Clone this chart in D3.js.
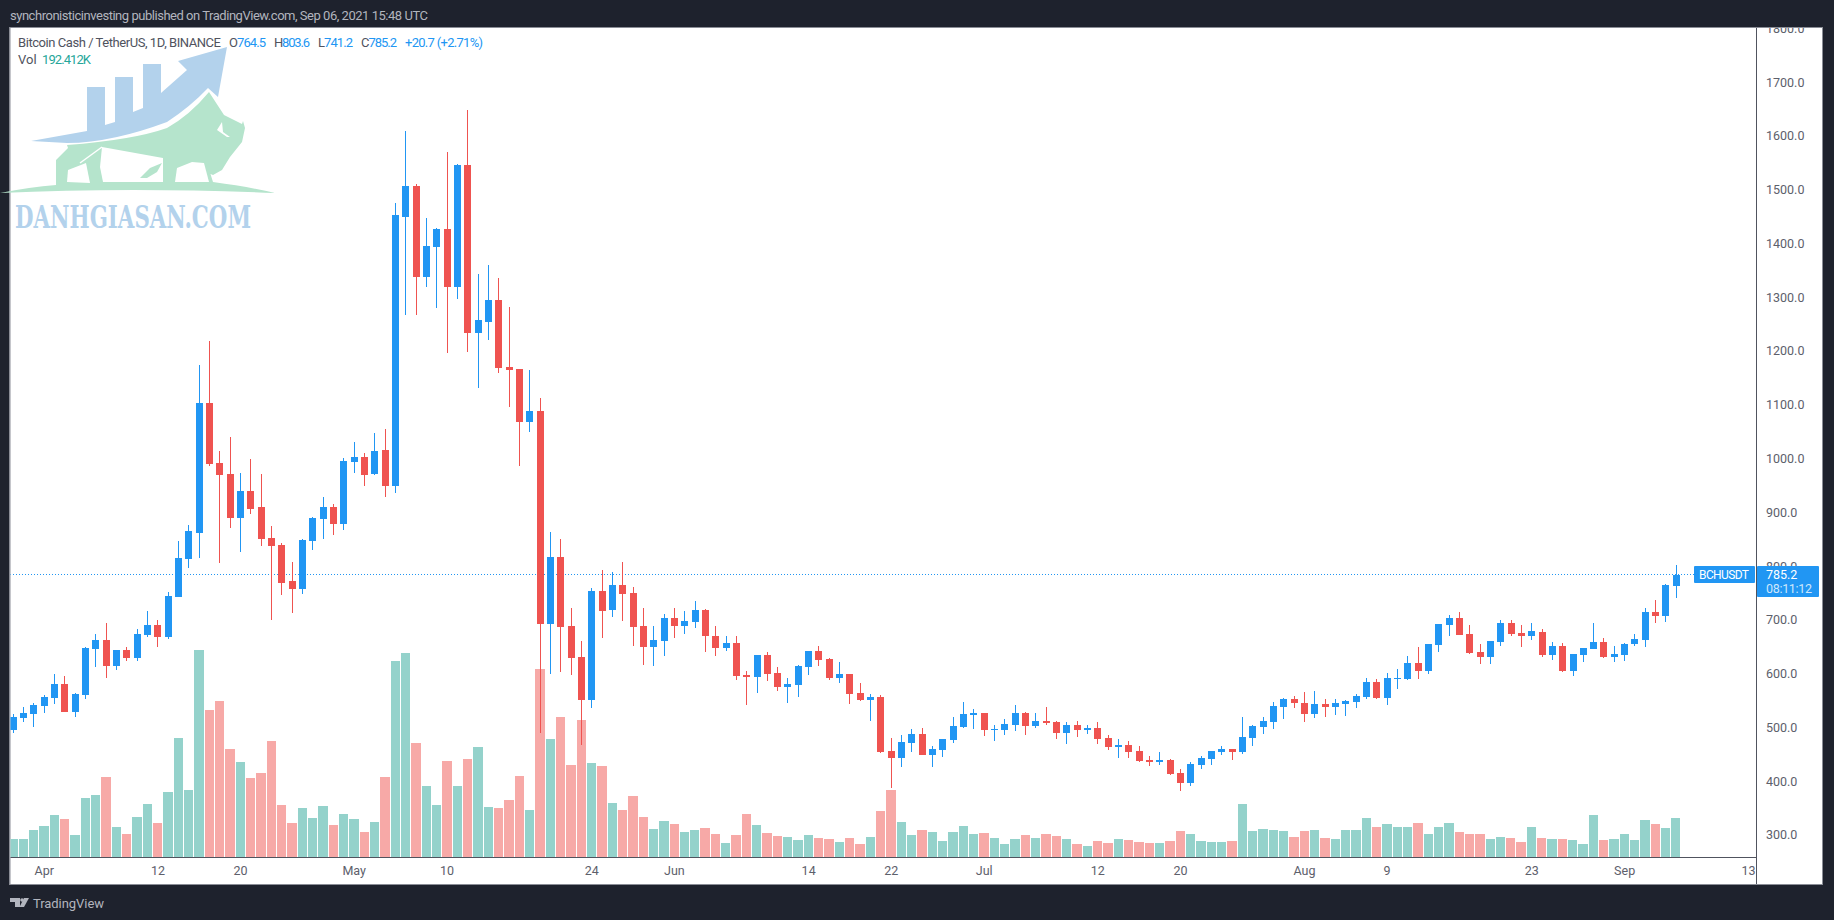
<!DOCTYPE html>
<html><head><meta charset="utf-8">
<script src="https://cdnjs.cloudflare.com/ajax/libs/d3/7.8.5/d3.min.js"></script>
<style>
html,body{margin:0;padding:0;background:#1e222d;overflow:hidden}
svg{display:block}
text{font-family:Roboto,"Open Sans",sans-serif}
</style></head><body>
<svg id="c" width="1834" height="920"></svg>
<script>
const startDate = "2021-03-29";
const open = [
496,519,526,541,556,582,530,561,647,664,
615,645,630,673,691,669,744,814,863,1104,
993,972,891,941,911,853,840,773,758,848,
889,911,879,995,1004,972,1017,950,1450,1508,
1339,1395,1428,1320,1547,1235,1255,1296,1171,1168,
1069,1090,693,818,690,632,552,755,719,766,
751,690,651,662,705,690,697,719,671,649,
658,598,595,636,602,576,580,613,643,628,
593,600,565,552,558,457,444,472,489,450,
459,478,502,524,528,496,496,505,528,504,
513,511,491,505,496,500,481,465,468,457,
440,437,440,416,398,431,442,455,461,455,
481,502,511,539,554,546,526,545,539,545,
548,558,585,556,591,591,621,606,654,691,
705,675,641,632,660,695,677,671,679,636,
652,606,636,647,660,632,636,656,664,716,
708,764.5];
const high = [
526,539,546,561,600,597,565,651,675,695,
645,651,684,718,701,753,848,877,1175,1220,
1015,1041,974,1000,972,876,844,809,851,892,
930,917,1002,1032,1011,1049,1056,1476,1610,1512,
1449,1430,1571,1549,1649,1344,1361,1337,1283,1168,
1166,1114,864,851,723,662,760,794,790,809,
762,723,690,712,723,718,736,721,690,671,
671,606,636,641,613,593,617,643,652,630,
623,600,584,563,561,481,487,498,500,466,
479,520,548,535,528,505,517,543,530,528,
539,513,511,513,505,511,487,479,476,466,
448,455,442,424,437,448,457,466,461,520,
505,520,548,556,559,567,569,554,554,552,
563,593,591,602,610,634,651,656,693,710,
716,691,656,662,701,701,691,695,684,660,
658,638,649,695,667,652,658,675,723,738,
768,803.6];
const low = [
491,511,502,528,545,530,520,554,613,593,
608,625,625,669,651,665,744,798,816,987,
807,872,827,898,838,701,747,714,749,831,
851,859,868,974,950,970,930,937,1268,1268,
1320,1281,1197,1298,1199,1132,1222,1160,1097,987,
1050,491,600,604,598,468,537,667,706,699,
652,617,615,634,667,675,686,641,634,643,
589,543,565,587,569,546,558,598,615,589,
584,545,550,513,453,388,427,455,450,427,
446,472,500,498,485,476,487,494,487,500,
505,479,470,483,489,470,459,444,444,437,
429,431,412,383,392,424,431,450,440,452,
466,489,498,517,537,511,519,520,524,522,
537,554,554,543,572,589,591,600,641,671,
673,638,619,619,652,671,651,664,632,626,
604,597,623,647,630,623,625,652,651,695,
697,741.2];
const close = [
520,528,543,558,582,530,563,649,664,615,
645,630,675,691,669,745,816,866,1104,991,
970,891,941,907,851,838,770,758,850,891,
911,879,997,1004,970,1015,950,1454,1508,1339,
1396,1428,1320,1547,1235,1259,1296,1170,1166,1069,
1090,693,818,688,630,552,755,718,766,749,
688,651,664,705,690,699,719,671,649,658,
597,595,636,600,576,582,615,643,626,593,
600,563,552,558,455,444,474,489,450,461,
479,504,526,528,496,498,507,528,504,513,
509,491,505,496,500,479,465,468,455,439,
437,440,414,398,433,444,457,461,455,483,
504,513,541,554,546,526,545,539,546,550,
559,585,556,593,593,621,606,656,693,705,
673,639,632,662,695,675,671,680,636,652,
606,638,649,660,632,638,656,665,716,708,
766,785.2];
const volume = [
89,89,133,153,207,187,109,291,306,395,
148,113,197,262,168,321,587,331,1021,725,
770,533,469,390,414,572,257,168,242,192,
252,158,212,187,123,173,395,967,1007,562,
350,257,474,350,484,543,247,242,281,400,
232,928,582,691,454,676,464,449,266,232,
301,197,138,178,163,123,133,143,113,69,
109,212,158,118,104,99,84,109,94,89,
74,94,64,99,227,331,173,109,133,123,
79,123,153,113,118,94,64,89,109,94,
113,104,89,64,54,79,69,89,84,74,
69,69,79,128,113,79,74,74,79,262,
128,138,133,128,99,128,133,94,89,133,
133,192,148,163,148,148,168,113,148,168,
123,113,113,89,99,94,74,148,94,89,
89,84,64,207,84,89,113,84,183,163,
143,192.4];
const priceTicks = [300,400,500,600,700,800,900,1000,1100,1200,1300,1400,1500,1600,1700,1800];
const timeTickDates = ["2021-04-01","2021-04-12","2021-04-20","2021-05-01","2021-05-10","2021-05-24","2021-06-01","2021-06-14","2021-06-22","2021-07-01","2021-07-12","2021-07-20","2021-08-01","2021-08-09","2021-08-23","2021-09-01","2021-09-13"];
const timeTickLabels = ["Apr","12","20","May","10","24","Jun","14","22","Jul","12","20","Aug","9","23","Sep","13"];
const legendPairs = [["O","764.5"],["H","803.6"],["L","741.2"],["C","785.2"]];

const BG="#1e222d", BLUE="#2196f3", RED="#ef5350", VTEAL="#94d2cb", VRED="#f7a9a7", AXTXT="#5d606b", LOGOB="#b3d2ec", LOGOG="#b5e4cc";
const svg=d3.select("#c");
const parse=d3.utcParse("%Y-%m-%d");
const dates=d3.range(open.length).map(i=>d3.utcDay.offset(parse(startDate),i));
const x=d3.scaleUtc().domain([dates[0],dates[dates.length-1]]).range([13.3,1676.3]);
const y=d3.scaleLinear().domain([300,1800]).range([835.5,29]);
const v=d3.scaleLinear().domain([0,1036]).range([857,647]);

svg.append("rect").attr("width",1834).attr("height",920).attr("fill",BG);
svg.append("rect").attr("x",9).attr("y",27).attr("width",1815).attr("height",858).attr("fill","#8a8d96");
svg.append("rect").attr("x",10.5).attr("y",28).attr("width",1812).attr("height",856).attr("fill","#fff");
svg.append("rect").attr("x",1823).attr("y",27).attr("width",11).attr("height",858).attr("fill",BG);
svg.append("rect").attr("x",1822).attr("y",27).attr("width",1).attr("height",858).attr("fill","#8a8d96");

const defs=svg.append("defs");
defs.append("clipPath").attr("id","pc").append("rect").attr("x",10.5).attr("y",28).attr("width",1745.5).attr("height",829);
defs.append("clipPath").attr("id","ax").append("rect").attr("x",1757).attr("y",28).attr("width",65).attr("height",829);
const plot=svg.append("g").attr("clip-path","url(#pc)").attr("shape-rendering","crispEdges");

const idx=d3.range(open.length);
const left=i=>Math.ceil(x(dates[i])-5.365);
plot.append("g").selectAll("rect").data(idx).join("rect")
 .attr("x",left)
 .attr("width",i=>(i<open.length-1?left(i+1):left(i)+10)-left(i)-1)
 .attr("y",i=>Math.round(v(volume[i])))
 .attr("height",i=>857-Math.round(v(volume[i])))
 .attr("fill",i=>close[i]>=open[i]?VTEAL:VRED);

plot.append("line").attr("x1",10).attr("x2",1694).attr("y1",574.5).attr("y2",574.5)
 .attr("stroke",BLUE).attr("stroke-width",1).attr("stroke-dasharray","1 2").attr("shape-rendering","auto");

const col=i=>close[i]>=open[i]?BLUE:RED;
const wx=i=>Math.floor(x(dates[i]));
plot.append("g").selectAll("rect").data(idx).join("rect")
 .attr("x",wx).attr("width",1)
 .attr("y",i=>Math.round(y(high[i])))
 .attr("height",i=>Math.round(y(low[i]))-Math.round(y(high[i])))
 .attr("fill",col);
plot.append("g").selectAll("rect").data(idx).join("rect")
 .attr("x",i=>wx(i)-3).attr("width",7)
 .attr("y",i=>Math.round(y(Math.max(open[i],close[i]))))
 .attr("height",i=>Math.max(1,Math.round(y(Math.min(open[i],close[i])))-Math.round(y(Math.max(open[i],close[i])))))
 .attr("fill",col);

svg.append("rect").attr("x",10.5).attr("y",857).attr("width",1745.5).attr("height",1).attr("fill","#50535e");
svg.append("rect").attr("x",1756).attr("y",28).attr("width",1).attr("height",856).attr("fill","#50535e");

// price axis
svg.append("g").attr("clip-path","url(#ax)").selectAll("text").data(priceTicks).join("text")
 .attr("x",1766).attr("y",d=>y(d)-0.5).attr("dy","0.35em")
 .attr("font-size",12.5).attr("fill",AXTXT).text(d=>d3.format(".1f")(d));

// time axis
svg.append("g").selectAll("text").data(timeTickDates).join("text")
 .attr("x",d=>x(parse(d))).attr("y",871).attr("dy","0.35em").attr("text-anchor","middle")
 .attr("font-size",12.5).attr("fill",AXTXT).text((d,i)=>timeTickLabels[i]);

// last price labels
svg.append("rect").attr("x",1694).attr("y",566).attr("width",61).attr("height",17).attr("rx",1).attr("fill",BLUE);
svg.append("rect").attr("x",1757).attr("y",566).attr("width",62).attr("height",31).attr("rx",1).attr("fill",BLUE);
svg.append("text").attr("x",1699).attr("y",574.5).attr("dy","0.35em").attr("font-size",12).attr("fill","#fff").attr("textLength",50).text("BCHUSDT");
svg.append("text").attr("x",1766).attr("y",574.5).attr("dy","0.35em").attr("font-size",12.5).attr("fill","#fff").text(close[close.length-1].toFixed(1));
svg.append("text").attr("x",1766).attr("y",589).attr("dy","0.35em").attr("font-size",12.5).attr("fill","#cfe7fb").attr("textLength",46).text("08:11:12");

// header
svg.append("text").attr("x",10).attr("y",15).attr("dy","0.35em").attr("font-size",13).attr("fill","#b2b5be").attr("textLength",418)
 .text("synchronisticinvesting published on TradingView.com, Sep 06, 2021 15:48 UTC");

// legend
const lg=svg.append("g").attr("font-size",13);
lg.append("text").attr("x",18).attr("y",42).attr("dy","0.35em").attr("fill","#50535e").attr("textLength",203).text("Bitcoin Cash / TetherUS, 1D, BINANCE");
const lx=[229,274,318,361], lw=[37,36,35,36];
legendPairs.forEach((p,i)=>{
  const t=lg.append("text").attr("x",lx[i]).attr("y",42).attr("dy","0.35em").attr("fill",BLUE).attr("textLength",lw[i]);
  t.append("tspan").attr("fill","#50535e").text(p[0]);
  t.append("tspan").text(p[1]);
});
lg.append("text").attr("x",405).attr("y",42).attr("dy","0.35em").attr("fill",BLUE).attr("textLength",78).text("+20.7 (+2.71%)");
lg.append("text").attr("x",18).attr("y",59).attr("dy","0.35em").attr("fill","#50535e").text("Vol");
lg.append("text").attr("x",42).attr("y",59).attr("dy","0.35em").attr("fill","#26a69a").attr("textLength",49).text("192.412K");

// watermark logo
const wm=svg.append("g");
wm.append("path").attr("fill",LOGOG).attr("d","M0,193 Q30,187 56,185 L56,160 L68,148 L67,145 Q133,140 167,128 Q190,115 209,92 L224,115 L242,124 L243,121 L245,128 L242,142 L230,157 L222,170 L213,175 L208,173 L207,163 L213,182 Q250,187 275,193 Q130,187 0,193 Z");
wm.append("path").attr("fill","#fff").attr("d","M67,182 L68,170 L86,163 L90,183 Z");
wm.append("path").attr("fill","#fff").attr("d","M103,182 L100,167 L102,147 L163,158 L163,182 Z");
wm.append("path").attr("fill","none").attr("stroke","#fff").attr("stroke-width",1.5).attr("d","M102,147 L80,163");
wm.append("path").attr("fill",LOGOG).attr("d","M140,178 L150,168 L162,163 L157,172 L147,178 Z");
wm.append("path").attr("fill","#fff").attr("d","M175,182 L177,168 L192,162 L204,163 L209,182 Z");
wm.append("path").attr("fill","#fff").attr("d","M222,122 L217,130 L227,137 L230,137 L223,132 Z");
wm.append("path").attr("fill",LOGOB).attr("d","M31,141 L87,131 L87,87 L105,87 L105,125 L115,122 L115,77 L133,77 L133,112 L143,108 L143,64 L161,64 L161,93 L187,70 L178,61 L227,47 L218,97 L208,88 Q190,107 167,122 Q140,132 117,137 Q90,143 67,143 Z");
wm.append("text").attr("x",15).attr("y",228).style("font-family","'DejaVu Serif'").style("font-size","31px").style("font-weight","bold")
 .attr("fill",LOGOB).attr("textLength",236).attr("lengthAdjust","spacingAndGlyphs").text("DANHGIASAN.COM");

// TradingView footer
const tv=svg.append("g").attr("fill","#b2b5be");
tv.append("path").attr("d","M10,898 H20 V907 H15 V902 H10 Z");
tv.append("circle").attr("cx",22).attr("cy",900).attr("r",1.8);
tv.append("path").attr("d","M24,898 H29 L24,907 H19.5 Z");
tv.append("text").attr("x",33).attr("y",903).attr("dy","0.35em").attr("font-size",13).attr("textLength",71).text("TradingView");
</script>
</body></html>
